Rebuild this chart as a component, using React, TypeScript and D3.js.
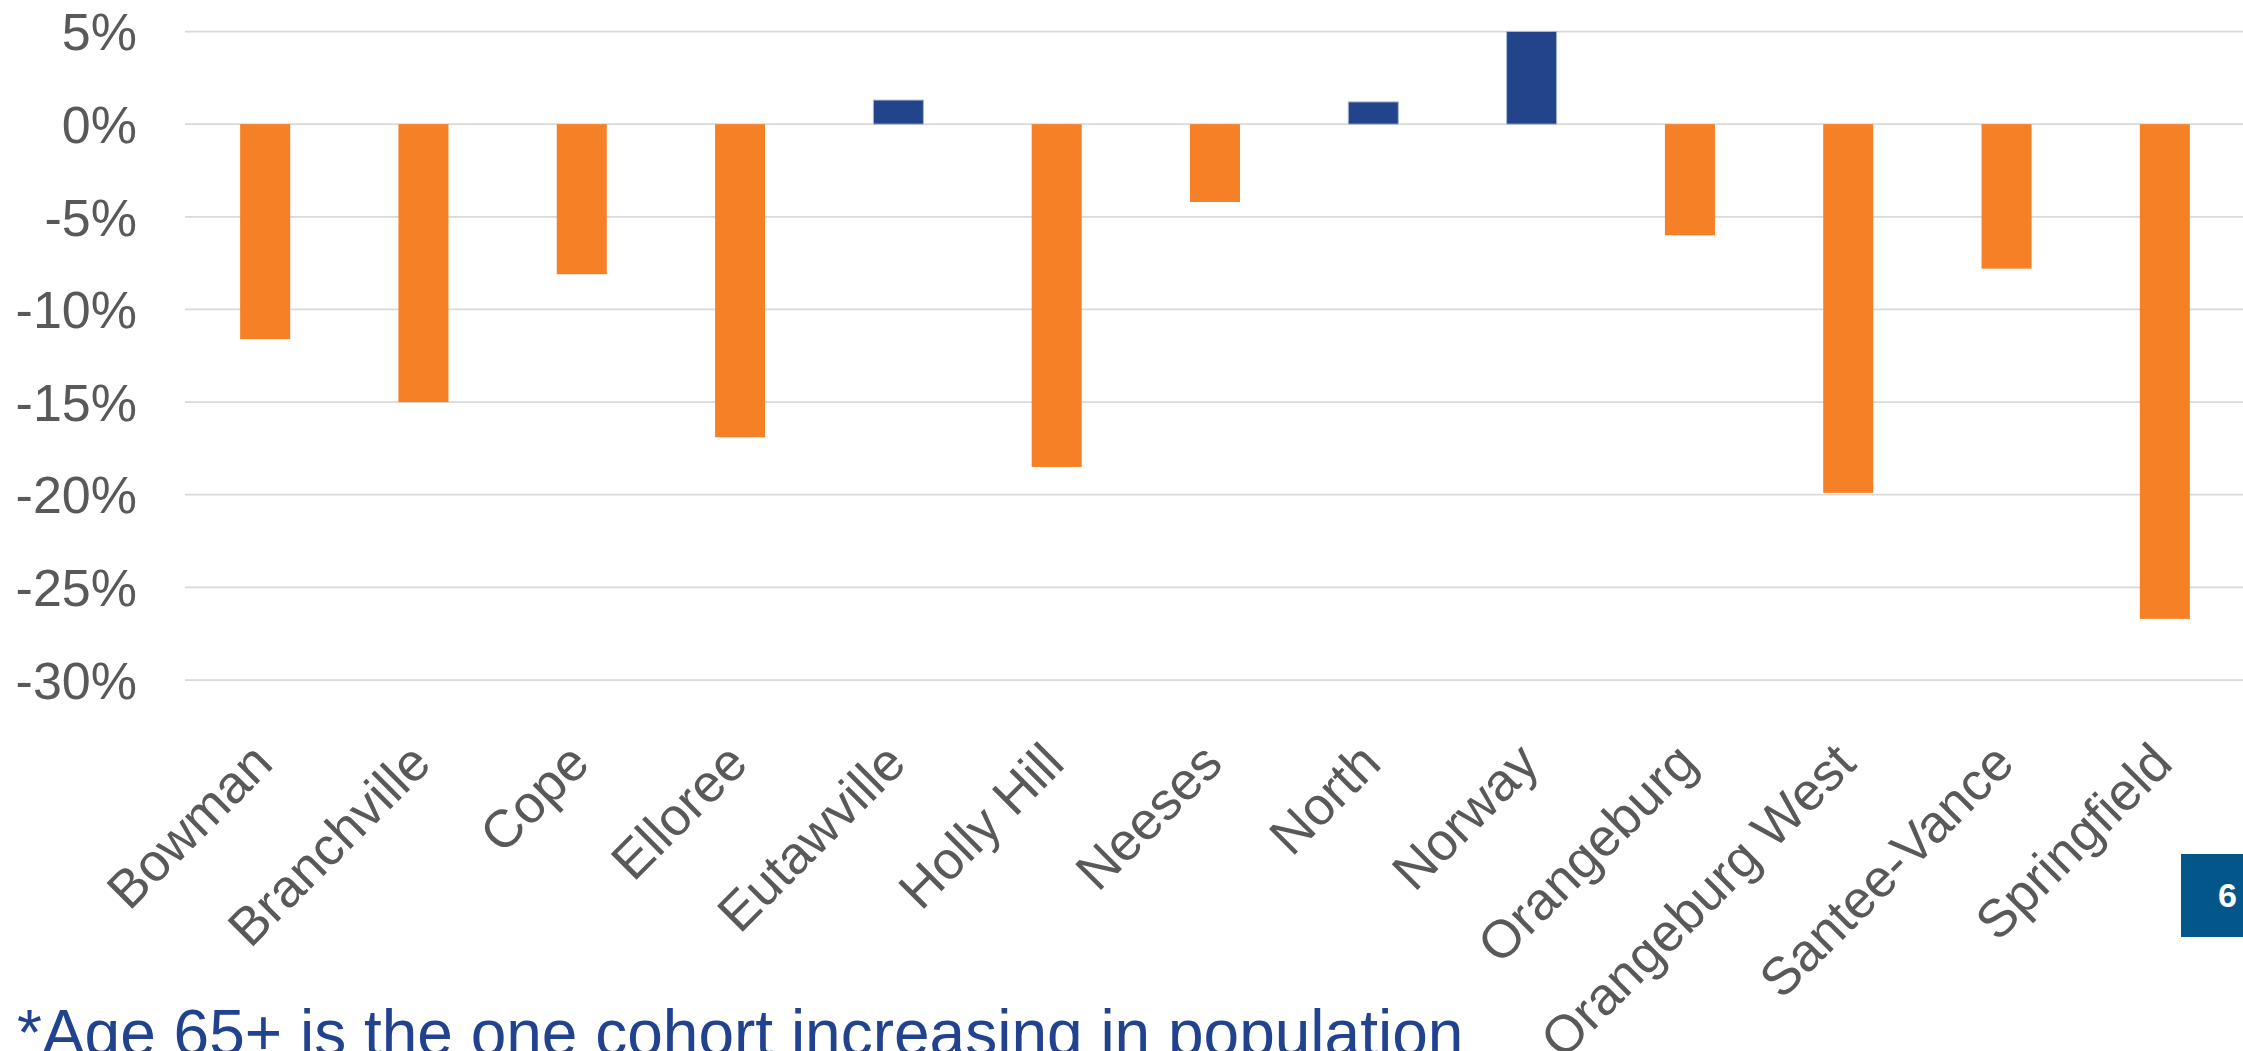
import React from "react";
import * as d3 from "d3";

const categories = [
  "Bowman",
  "Branchville",
  "Cope",
  "Elloree",
  "Eutawville",
  "Holly Hill",
  "Neeses",
  "North",
  "Norway",
  "Orangeburg",
  "Orangeburg West",
  "Santee-Vance",
  "Springfield",
];
const changePct = [-11.6, -15.0, -8.1, -16.9, 1.3, -18.5, -4.2, 1.2, 5.0, -6.0, -19.9, -7.8, -26.7];
const yTicks = [5, 0, -5, -10, -15, -20, -25, -30];
const caption = "*Age 65+ is the one cohort increasing in population";
const pageNumber = "6";

const W = 2243;
const H = 1051;
const FONT = "'Liberation Sans', Arial, sans-serif";

export default function App() {
  const x = d3
    .scaleBand<string>()
    .domain(categories)
    .range([186, 2244])
    .paddingInner(0.684)
    .paddingOuter(0.342);
  const y = d3.scaleLinear().domain([-30, 5]).range([680, 31.5]);
  const data = categories.map((c, i) => ({ c, v: changePct[i] }));
  const fmt = (t: number) => `${t}%`;

  return (
    <div style={{ position: "absolute", left: 0, top: 0, width: W, height: H, overflow: "hidden" }}>
      <svg width={W} height={H} style={{ display: "block", background: "#fff" }}>
        {yTicks.map((t) => (
          <g key={t}>
            <line x1={185} x2={W} y1={y(t)} y2={y(t)} stroke="#d9d9d9" strokeWidth={1.75} />
            <text
              x={137}
              y={y(t)}
              dy="0.36em"
              textAnchor="end"
              fontFamily={FONT}
              fontSize={52}
              fill="#595959"
            >
              {fmt(t)}
            </text>
          </g>
        ))}
        {data.map((d) => (
          <rect
            key={d.c}
            x={x(d.c)}
            width={x.bandwidth()}
            y={y(Math.max(0, d.v))}
            height={Math.abs(y(d.v) - y(0))}
            fill={d.v >= 0 ? "#22448b" : "#f68026"}
            stroke={d.v >= 0 ? "#a9b8d8" : "none"}
            strokeWidth={1}
          />
        ))}
        {categories.map((c) => {
          const cx = (x(c) as number) + x.bandwidth() / 2;
          return (
            <text
              key={c}
              transform={`translate(${cx + 10}, 766) rotate(-45)`}
              textAnchor="end"
              fontFamily={FONT}
              fontSize={53}
              fill="#595959"
            >
              {c}
            </text>
          );
        })}
        <text x={17} y={1055} fontFamily={FONT} fontSize={64} fill="#21428f">
          {caption}
        </text>
        <rect x={2181} y={854} width={70} height={83} fill="#02568a" />
        <text x={2218} y={907} fontFamily={FONT} fontSize={34} fontWeight="bold" fill="#fff">
          {pageNumber}
        </text>
      </svg>
    </div>
  );
}
